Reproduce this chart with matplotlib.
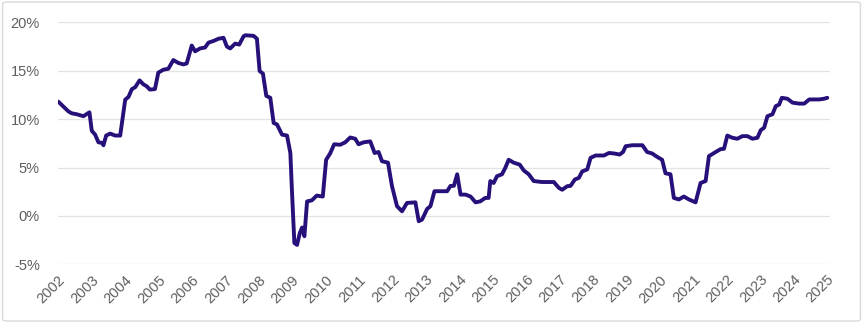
import matplotlib
matplotlib.use("Agg")
import matplotlib.pyplot as plt
from matplotlib.patches import FancyBboxPatch

# Breakpoints of the series (decimal year, value in %)
years = [
    2002.01, 2002.16, 2002.31, 2002.41, 2002.56, 2002.76, 2002.94,
    2003.01, 2003.11, 2003.21, 2003.31, 2003.36, 2003.44, 2003.56, 2003.71, 2003.86, 2003.94,
    2004.01, 2004.11, 2004.21, 2004.31, 2004.44, 2004.55, 2004.65, 2004.75, 2004.90,
    2005.00, 2005.15, 2005.30, 2005.45, 2005.60, 2005.75, 2005.85,
    2006.00, 2006.10, 2006.25, 2006.40, 2006.50, 2006.65, 2006.80, 2006.95,
    2007.05, 2007.15, 2007.30, 2007.42, 2007.55, 2007.60, 2007.85, 2007.95,
    2008.03, 2008.13, 2008.23, 2008.35, 2008.45, 2008.55, 2008.70, 2008.85, 2008.95,
    2009.00, 2009.07, 2009.15, 2009.23, 2009.30, 2009.37, 2009.45, 2009.59, 2009.74, 2009.92,
    2010.02, 2010.14, 2010.26, 2010.44, 2010.59, 2010.74, 2010.89, 2010.99,
    2011.14, 2011.34, 2011.47, 2011.59, 2011.69, 2011.87, 2011.99,
    2012.14, 2012.29, 2012.44, 2012.69, 2012.79, 2012.89,
    2013.04, 2013.14, 2013.26, 2013.64, 2013.74, 2013.84, 2013.94,
    2014.04, 2014.19, 2014.34, 2014.49, 2014.63, 2014.78, 2014.88, 2014.93,
    2015.03, 2015.13, 2015.28, 2015.38, 2015.48, 2015.63, 2015.81, 2015.93,
    2016.08, 2016.23, 2016.48, 2016.83, 2016.98, 2017.08, 2017.23, 2017.33, 2017.46, 2017.58,
    2017.68, 2017.83, 2017.93, 2018.08, 2018.33, 2018.48, 2018.63, 2018.80, 2018.90,
    2018.98, 2019.18, 2019.48, 2019.62, 2019.77, 2019.92, 2020.07, 2020.17, 2020.32,
    2020.42, 2020.57, 2020.72, 2020.87, 2021.07, 2021.22, 2021.37, 2021.47, 2021.67, 2021.82,
    2021.92, 2022.02, 2022.17, 2022.32, 2022.47, 2022.62, 2022.77, 2022.92,
    2023.02, 2023.12, 2023.22, 2023.37, 2023.47, 2023.57, 2023.65, 2023.82, 2023.97,
    2024.17, 2024.32, 2024.47, 2024.76, 2024.91, 2025.01,
]
values = [
    11.8, 11.3, 10.8, 10.6, 10.5, 10.3, 10.7,
    8.8, 8.4, 7.6, 7.55, 7.3, 8.3, 8.5, 8.3, 8.3, 10.3,
    12.0, 12.3, 13.1, 13.3, 14.0, 13.6, 13.4, 13.05, 13.1,
    14.8, 15.1, 15.2, 16.1, 15.8, 15.65, 15.75,
    17.6, 17.0, 17.3, 17.4, 17.9, 18.07, 18.3, 18.4,
    17.5, 17.3, 17.8, 17.7, 18.55, 18.66, 18.6, 18.3,
    14.97, 14.7, 12.4, 12.2, 9.6, 9.45, 8.4, 8.3, 6.5,
    2.4, -2.8, -3.0, -1.8, -1.2, -2.1, 1.5, 1.6, 2.1, 2.0,
    5.8, 6.45, 7.4, 7.35, 7.6, 8.1, 7.97, 7.4,
    7.6, 7.7, 6.5, 6.6, 5.65, 5.5, 3.07,
    1.0, 0.48, 1.34, 1.4, -0.55, -0.38,
    0.72, 1.0, 2.55, 2.55, 3.1, 3.1, 4.3,
    2.2, 2.2, 2.0, 1.4, 1.5, 1.86, 1.86, 3.6,
    3.4, 4.1, 4.3, 4.97, 5.8, 5.5, 5.3, 4.7,
    4.3, 3.6, 3.5, 3.5, 2.9, 2.7, 3.07, 3.1, 3.76, 3.93,
    4.6, 4.8, 6.0, 6.24, 6.24, 6.5, 6.45, 6.34, 6.6,
    7.2, 7.3, 7.3, 6.6, 6.45, 6.1, 5.8, 4.4, 4.3,
    1.86, 1.7, 2.0, 1.7, 1.4, 3.4, 3.6, 6.17, 6.6, 6.9,
    6.93, 8.3, 8.07, 7.97, 8.24, 8.24, 7.97, 8.07,
    8.86, 9.1, 10.3, 10.5, 11.34, 11.5, 12.2, 12.1, 11.7,
    11.6, 11.6, 12.03, 12.03, 12.1, 12.2,
]
tick_years = list(range(2002, 2026))
y_ticks = [-5, 0, 5, 10, 15, 20]

plt.rcParams['font.family'] = ['Liberation Sans', 'DejaVu Sans']

fig = plt.figure(figsize=(8.63, 3.23), dpi=100)
fig.patch.set_facecolor('white')
border = FancyBboxPatch((0.003, 0.006), 0.994, 0.988, boxstyle="round,pad=0,rounding_size=0.006",
                        transform=fig.transFigure, facecolor='none', edgecolor='#d9d9d9',
                        linewidth=1.0)
fig.patches.append(border)

ax = fig.add_axes([58/863, 1 - 264.3/323, (830.3 - 58)/863, (264.3 - 22.3)/323])
ax.plot(years, values, color='#28107a', linewidth=2.8, solid_joinstyle='round',
        solid_capstyle='round', zorder=3)

ax.set_xlim(2002, 2025.1)
ax.set_ylim(-5, 20)
ax.set_yticks(y_ticks)
ax.set_yticklabels([f"{v}%" for v in y_ticks])
ax.set_xticks(tick_years)
ax.set_xticklabels([str(y) for y in tick_years], rotation=45, ha='right', rotation_mode='anchor')

ax.grid(axis='y', color='#e3e3e3', linewidth=0.9)
ax.grid(axis='x', visible=False)
ax.set_axisbelow(True)
for s in ax.spines.values():
    s.set_visible(False)
ax.tick_params(axis='both', length=0, labelsize=10.5, colors='#5f5f5f')
ax.tick_params(axis='y', pad=13)
ax.tick_params(axis='x', pad=6)

fig.savefig('out.png', dpi=100)
